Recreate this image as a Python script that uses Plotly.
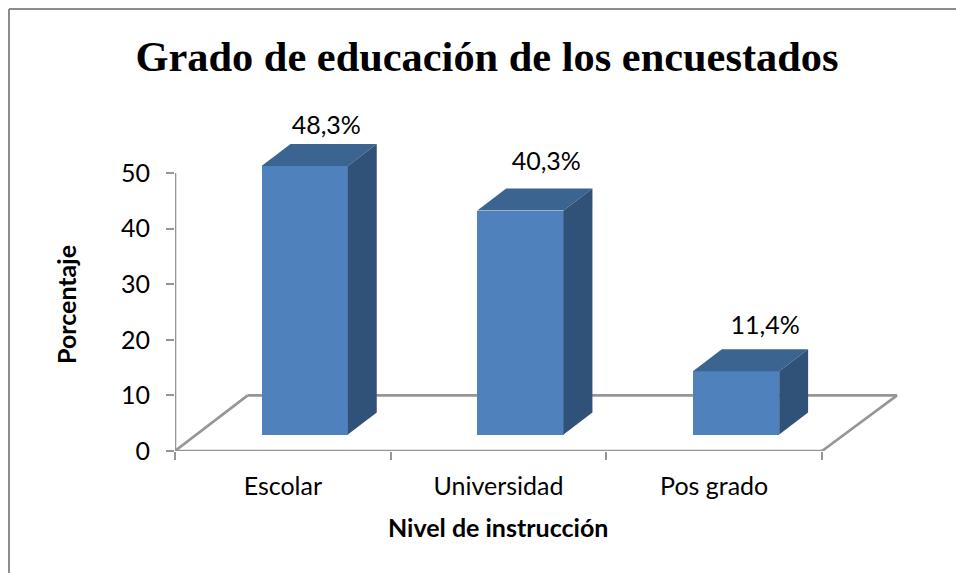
import plotly.graph_objects as go

# ---- data ----
categories = ["Escolar", "Universidad", "Pos grado"]
values = [48.3, 40.3, 11.4]
labels = ["48,3%", "40,3%", "11,4%"]
y_ticks = [0, 10, 20, 30, 40, 50]
chart_title = "Grado de educación de los encuestados"
x_title = "Nivel de instrucción"
y_title = "Porcentaje"

# ---- layout geometry (pixels of the 956x573 page) ----
W, H = 956, 573
PX_LEFT, PX_BOTTOM, PX_CAT, PX_UNIT = 175, 451, 215.67, 5.56
PX_RIGHT, PX_TOP = 899, 100
x_max = (PX_RIGHT - PX_LEFT) / PX_CAT
y_max = (PX_BOTTOM - PX_TOP) / PX_UNIT

# ---- pseudo-3D geometry (data units) ----
N = len(categories)
bar_w, bar_dx, bar_base = 0.4, 0.1015, 2.95
depth_x, depth_y = 0.134, 3.96
floor_dx_l, floor_dx_r, floor_h = 0.337, 0.348, 10
label_dx = [0.10, 0.12, 0.135]
label_dy = [6.8, 8.4, 7.9]
C_FRONT, C_TOP, C_SIDE, C_AXIS = "#4f81bd", "#3c6491", "#315278", "#969696"
TICK_FONT = dict(family="Lato, Carlito, sans-serif", size=25, color="#000000")
AXIS_TITLE_FONT = dict(family="Lato, Carlito, sans-serif", size=25, color="#000000")

fig = go.Figure()

# front faces
fig.add_trace(go.Bar(
    x=[i + 0.5 + bar_dx for i in range(N)], y=values, base=[bar_base] * N,
    width=[bar_w] * N, marker=dict(color=C_FRONT, line=dict(width=0)),
    hoverinfo="skip", showlegend=False))

# top and side faces
for i, v in enumerate(values):
    x0 = i + 0.5 + bar_dx - bar_w / 2
    x1 = x0 + bar_w
    lo, hi = bar_base, bar_base + v
    fig.add_trace(go.Scatter(
        x=[x0, x1, x1 + depth_x, x0 + depth_x, x0],
        y=[hi, hi, hi + depth_y, hi + depth_y, hi],
        mode="lines", fill="toself", fillcolor=C_TOP, line=dict(width=0),
        hoverinfo="skip", showlegend=False))
    fig.add_trace(go.Scatter(
        x=[x1, x1 + depth_x, x1 + depth_x, x1, x1],
        y=[hi, hi + depth_y, lo + depth_y, lo, hi],
        mode="lines", fill="toself", fillcolor=C_SIDE, line=dict(width=0),
        hoverinfo="skip", showlegend=False))

# axis lines (end at the last tick / category, not at the plot edge)
for xs, ys in (([0, N], [0, 0]), ([0, 0], [0, y_ticks[-1]])):
    fig.add_trace(go.Scatter(x=xs, y=ys, mode="lines", cliponaxis=False,
                             line=dict(color=C_AXIS, width=2.6),
                             hoverinfo="skip", showlegend=False))

# value labels
fig.add_trace(go.Scatter(
    x=[i + 0.5 + bar_dx + label_dx[i] for i in range(N)],
    y=[v + bar_base + label_dy[i] for i, v in enumerate(values)],
    text=labels, mode="text", textposition="middle center", cliponaxis=False,
    textfont=TICK_FONT, hoverinfo="skip", showlegend=False))

# floor of the 3D box, behind the bars
floor_path = [(0, 0), (floor_dx_l, floor_h), (N + floor_dx_r, floor_h), (N, 0)]
shapes = [dict(type="line", layer="below", xref="x", yref="y",
               x0=a[0], y0=a[1], x1=b[0], y1=b[1],
               line=dict(color=C_AXIS, width=2.6))
          for a, b in zip(floor_path, floor_path[1:])]

# outer chart frame (open at the right and bottom page edges)
def px(v): return (v - PX_LEFT) / (PX_RIGHT - PX_LEFT)
def py(v): return (PX_BOTTOM - v) / (PX_BOTTOM - PX_TOP)
FR = 9
for (a, b, c, d) in ((FR, FR, W, FR), (FR, FR, FR, H)):
    shapes.append(dict(type="line", xref="paper", yref="paper",
                       x0=px(a), y0=py(b), x1=px(c), y1=py(d),
                       line=dict(color="#8c8c8c", width=2)))

annotations = [
    dict(text=f"<b>{x_title}</b>", xref="paper", yref="paper",
         x=px(497.5), y=py(527), xanchor="center", yanchor="middle",
         showarrow=False, font=AXIS_TITLE_FONT),
    dict(text=f"<b>{y_title}</b>", xref="paper", yref="paper",
         x=px(66), y=py(305), xanchor="center", yanchor="middle",
         textangle=-90, showarrow=False, font=AXIS_TITLE_FONT),
]

fig.update_layout(
    width=W, height=H, autosize=False,
    margin=dict(l=PX_LEFT, r=W - PX_RIGHT, t=PX_TOP, b=H - PX_BOTTOM, pad=0),
    paper_bgcolor="#ffffff", plot_bgcolor="rgba(0,0,0,0)", showlegend=False,
    shapes=shapes, annotations=annotations, bargap=0,
    title=dict(text=f"<b>{chart_title}</b>", x=487 / W, xanchor="center",
               y=1 - 56 / H, yanchor="middle",
               font=dict(family="Liberation Serif", size=42.4, color="#000000")),
    xaxis=dict(range=[0, x_max], showgrid=False, zeroline=False, showline=False,
               tickmode="array", tickvals=[i + 0.5 for i in range(N)],
               ticktext=categories, ticks="", tickfont=TICK_FONT,
               ticklabelstandoff=18,
               minor=dict(tickmode="array", tickvals=list(range(N + 1)),
                          ticks="outside", ticklen=8, tickwidth=2, tickcolor=C_AXIS)),
    yaxis=dict(range=[0, y_max], showgrid=False, zeroline=False, showline=False,
               tickmode="array", tickvals=y_ticks, ticks="outside", ticklen=8,
               tickwidth=2, tickcolor=C_AXIS, tickfont=TICK_FONT,
               ticklabelstandoff=11),
)

fig.write_html("out.html", config=dict(displayModeBar=False, responsive=False),
               post_script="document.body.style.margin='0';document.body.style.overflow='hidden';")
